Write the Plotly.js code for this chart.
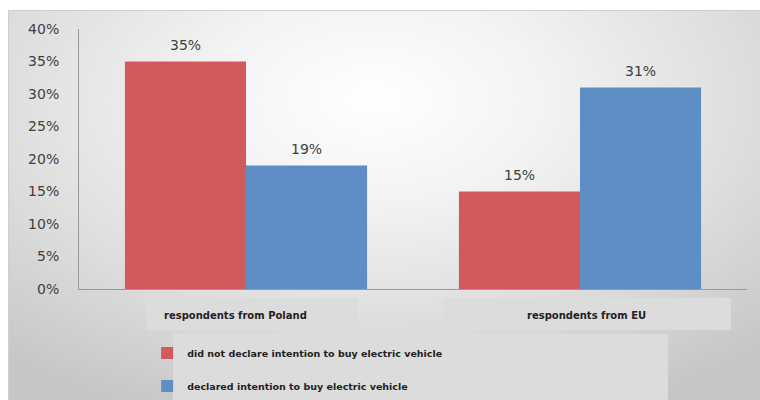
<!DOCTYPE html>
<html>
<head>
<meta charset="utf-8">
<script src="https://cdn.plot.ly/plotly-3.0.1.min.js"></script>
<style>
  html, body { margin: 0; padding: 0; background: #ffffff; }
  #wrap { position: relative; width: 760px; height: 400px; overflow: hidden; }
  #bg {
    position: absolute; left: 8px; top: 10px; width: 760px; height: 400px;
    border-top: 1px solid #cfcfcf; border-left: 1px solid #cfcfcf;
    background: radial-gradient(ellipse 75% 85% at 48% 22%, #ffffff 0%, #f3f3f3 30%, #dedede 65%, #c6c6c6 100%);
  }
  #chart { position: absolute; left: 0; top: 0; width: 760px; height: 400px; }
</style>
</head>
<body>
<div id="wrap">
  <div id="bg"></div>
  <div id="chart"></div>
</div>
<script>
const categories = ['respondents from Poland', 'respondents from EU'];
const seriesNames = ['did not declare intention to buy electric vehicle', 'declared intention to buy electric vehicle'];
const notDeclared = [0.35, 0.15];
const declared = [0.19, 0.31];
const yTickVals = [0, 0.05, 0.10, 0.15, 0.20, 0.25, 0.30, 0.35, 0.40];
const yTickText = ['0%', '5%', '10%', '15%', '20%', '25%', '30%', '35%', '40%'];

const colors = ['#D35A5C', '#5F8DC6'];
const txtColor = '#404040';
const numFont = { family: 'DejaVu Sans, sans-serif', size: 14, color: txtColor };

const series = [notDeclared, declared];
const traces = series.map((vals, k) => ({
  type: 'bar',
  x: categories,
  y: vals,
  name: seriesNames[k],
  legendgroup: 'g' + k,
  marker: { color: colors[k], line: { width: 0 } },
  hoverinfo: 'skip'
}));

const annotations = [];
// data labels (from data arrays)
const barShift = [-60.5, 60.5];
series.forEach((vals, k) => {
  vals.forEach((v, i) => {
    annotations.push({
      xref: 'x', yref: 'y', x: categories[i], y: v,
      text: Math.round(v * 100) + '%',
      showarrow: false, xanchor: 'center', yanchor: 'bottom',
      xshift: barShift[k], yshift: 7, font: numFont
    });
  });
});
// category labels
const catShift = [-11, 6];
categories.forEach((c, i) => {
  annotations.push({
    xref: 'x', yref: 'paper', x: c, y: -0.1038,
    text: c, showarrow: false, xanchor: 'center', yanchor: 'middle',
    xshift: catShift[i],
    font: { family: 'DejaVu Sans, sans-serif', size: 10, color: '#222222', weight: 'bold' }
  });
});

const boxFill = '#dcdcdc';
const shapes = [
  { type: 'rect', xref: 'paper', yref: 'paper', x0: 0.1003, x1: 0.4177, y0: -0.1577, y1: -0.0346, fillcolor: boxFill, line: { width: 0 }, layer: 'below' },
  { type: 'rect', xref: 'paper', yref: 'paper', x0: 0.5449, x1: 0.976, y0: -0.1577, y1: -0.0346, fillcolor: boxFill, line: { width: 0 }, layer: 'below' },
  { type: 'rect', xref: 'paper', yref: 'paper', x0: 0.1407, x1: 0.8817, y0: -0.45, y1: -0.173, fillcolor: boxFill, line: { width: 0 }, layer: 'below' }
];

const layout = {
  width: 760, height: 400,
  margin: { l: 79, r: 13, t: 29, b: 111, pad: 0, autoexpand: false },
  paper_bgcolor: 'rgba(0,0,0,0)',
  plot_bgcolor: 'rgba(0,0,0,0)',
  barmode: 'group',
  bargap: 0.275,
  bargroupgap: 0,
  showlegend: true,
  legend: {
    orientation: 'v', x: 0.102, xanchor: 'left', y: -0.19, yanchor: 'top',
    bgcolor: 'rgba(0,0,0,0)', traceorder: 'grouped', tracegroupgap: 14,
    font: { family: 'DejaVu Sans, sans-serif', size: 9.5, color: '#222222', weight: 'bold' }
  },
  xaxis: {
    type: 'category', range: [-0.5, 1.5], fixedrange: true,
    showticklabels: false, ticks: '', showgrid: false, zeroline: false,
    showline: true, linecolor: '#9a9a9a', linewidth: 1
  },
  yaxis: {
    range: [0, 0.4], tickvals: yTickVals, ticktext: yTickText,
    showgrid: false, zeroline: false, ticks: '',
    showline: true, linecolor: '#9a9a9a', linewidth: 1,
    ticklabelstandoff: 16, tickfont: numFont, fixedrange: true
  },
  annotations: annotations,
  shapes: shapes,
  font: { family: 'DejaVu Sans, sans-serif', color: txtColor }
};

Plotly.newPlot('chart', traces, layout, { displayModeBar: false, staticPlot: true });
</script>
</body>
</html>
